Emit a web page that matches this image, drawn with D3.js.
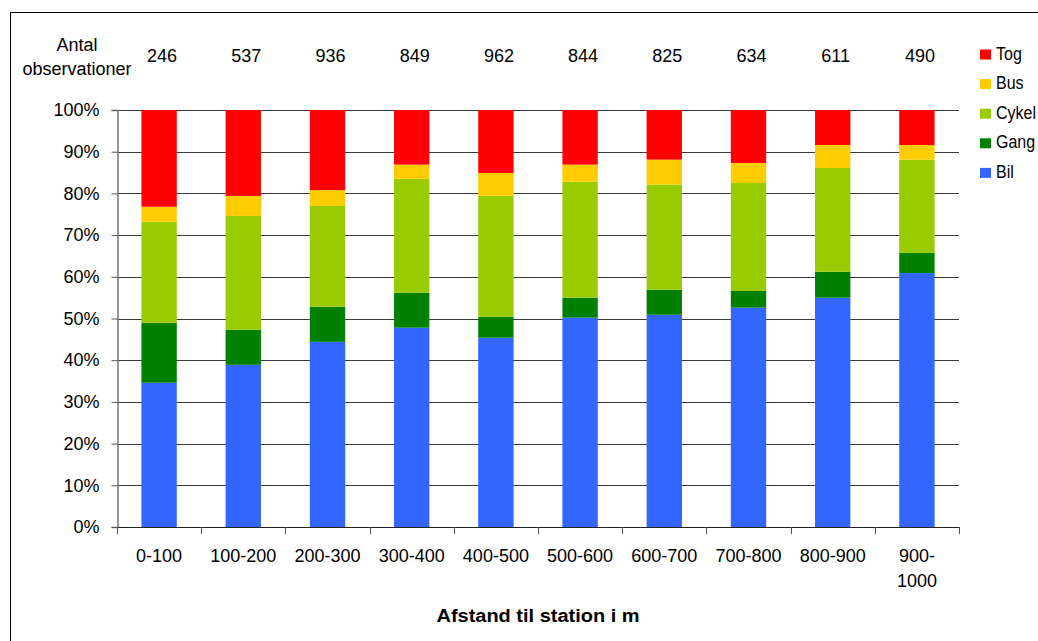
<!DOCTYPE html>
<html>
<head>
<meta charset="utf-8">
<script src="https://cdn.jsdelivr.net/npm/d3@7"></script>
<style>
  html, body { margin: 0; padding: 0; background: #fff; }
  svg { display: block; font-family: "Liberation Sans", Arial, sans-serif; }
</style>
</head>
<body>
<svg id="chart" width="1038" height="641"></svg>
<script>
// Distance bands to the station
const categories = ["0-100", "100-200", "200-300", "300-400", "400-500",
                    "500-600", "600-700", "700-800", "800-900", "900-1000"];
// Number of observations per band
const counts = [246, 537, 936, 849, 962, 844, 825, 634, 611, 490];

// Share of trips per mode (%), stacked bottom to top
const bil   = [34.6, 38.9, 44.4, 47.8, 45.4, 50.2, 50.9, 52.6, 55.0, 60.9];
const gang  = [14.4,  8.4,  8.4,  8.4,  5.0,  4.8,  6.0,  4.0,  6.2,  4.8];
const cykel = [24.2, 27.3, 24.2, 27.3, 29.0, 27.8, 25.2, 25.9, 24.9, 22.4];
const bus   = [ 3.6,  4.8,  3.8,  3.4,  5.5,  4.1,  6.0,  4.8,  5.5,  3.5];
const tog   = [23.2, 20.6, 19.2, 13.1, 15.1, 13.1, 11.9, 12.7,  8.4,  8.4];

const seriesNames = ["Bil", "Gang", "Cykel", "Bus", "Tog"];
const seriesValues = [bil, gang, cykel, bus, tog];
const seriesColors = ["#3366FF", "#008000", "#99CC00", "#FFCC00", "#FF0000"];

const yTicks = [0, 10, 20, 30, 40, 50, 60, 70, 80, 90, 100];

const svg = d3.select("#chart");

// Outer frame
svg.append("rect")
  .attr("x", 10.5).attr("y", 12.5)
  .attr("width", 1040).attr("height", 640)
  .attr("fill", "none").attr("stroke", "#000").attr("stroke-width", 1);

const plot = { left: 117, right: 959, top: 110, bottom: 527 };

const x = d3.scaleBand()
  .domain(categories)
  .range([plot.left, plot.right])
  .paddingInner(0.58)
  .paddingOuter(0.29);

const y = d3.scaleLinear()
  .domain([0, 100])
  .range([plot.bottom, plot.top]);

// Table rows for stacking
const rows = categories.map((c, i) => {
  const r = { cat: c };
  seriesNames.forEach((s, k) => { r[s] = seriesValues[k][i]; });
  return r;
});
const stacked = d3.stack().keys(seriesNames)(rows);
const color = d3.scaleOrdinal().domain(seriesNames).range(seriesColors);

// Horizontal gridlines
svg.append("g")
  .selectAll("line")
  .data(yTicks.filter(t => t > 0))
  .join("line")
  .attr("x1", plot.left).attr("x2", plot.right)
  .attr("y1", d => Math.round(y(d)) + 0.5).attr("y2", d => Math.round(y(d)) + 0.5)
  .attr("stroke", "#3a3a3a").attr("stroke-width", 1);

// Bars
svg.append("g")
  .selectAll("g")
  .data(stacked)
  .join("g")
  .attr("fill", d => color(d.key))
  .selectAll("rect")
  .data(d => d)
  .join("rect")
  .attr("x", d => x(d.data.cat))
  .attr("width", x.bandwidth())
  .attr("y", d => y(d[1]))
  .attr("height", d => y(d[0]) - y(d[1]));

// Y axis
const yAxis = svg.append("g")
  .attr("transform", `translate(${plot.left + 0.5},0)`)
  .call(d3.axisLeft(y).tickValues(yTicks).tickFormat(d => d + "%").tickSize(6).tickPadding(12));
yAxis.select(".domain").attr("stroke", "#777").attr("stroke-width", 1.5);
yAxis.selectAll(".tick line").attr("stroke", "#555");
yAxis.selectAll(".tick text")
  .attr("font-size", 18).attr("fill", "#000")
  .attr("font-family", "Liberation Sans, Arial, sans-serif");

// X axis: baseline, ticks at band boundaries, labels centred in bands
const step = x.step();
const boundaries = d3.range(categories.length + 1).map(i => plot.left + i * step);
const xg = svg.append("g");
xg.append("line")
  .attr("x1", plot.left).attr("x2", plot.right)
  .attr("y1", plot.bottom + 0.5).attr("y2", plot.bottom + 0.5)
  .attr("stroke", "#222").attr("stroke-width", 1);
xg.selectAll("line.tick")
  .data(boundaries)
  .join("line")
  .attr("class", "tick")
  .attr("x1", d => Math.round(d) + 0.5).attr("x2", d => Math.round(d) + 0.5)
  .attr("y1", plot.bottom).attr("y2", plot.bottom + 7)
  .attr("stroke", "#555");

const xLabels = xg.selectAll("text.cat")
  .data(categories)
  .join("text")
  .attr("class", "cat")
  .attr("x", d => x(d) + x.bandwidth() / 2)
  .attr("y", 562)
  .attr("text-anchor", "middle")
  .attr("font-size", 18)
  .text(d => d);

// Wrap labels wider than the band after the hyphen
xLabels.each(function(d) {
  const t = d3.select(this);
  if (this.getComputedTextLength() > step * 0.85) {
    const cut = d.indexOf("-") + 1;
    const cx = t.attr("x");
    t.text(null);
    t.append("tspan").attr("x", cx).text(d.slice(0, cut));
    t.append("tspan").attr("x", cx).attr("dy", 25).text(d.slice(cut));
  }
});

// Axis title
svg.append("text")
  .attr("x", (plot.left + plot.right) / 2)
  .attr("y", 622)
  .attr("text-anchor", "middle")
  .attr("font-size", 18)
  .attr("font-weight", "bold")
  .attr("textLength", 203)
  .attr("lengthAdjust", "spacingAndGlyphs")
  .text("Afstand til station i m");

// Observation counts above each bar
svg.append("text")
  .attr("x", 77).attr("y", 51)
  .attr("text-anchor", "middle").attr("font-size", 18)
  .text("Antal");
svg.append("text")
  .attr("x", 77).attr("y", 75)
  .attr("text-anchor", "middle").attr("font-size", 18)
  .text("observationer");
svg.append("g")
  .selectAll("text")
  .data(counts)
  .join("text")
  .attr("x", (d, i) => x(categories[i]) + x.bandwidth() / 2 + 3)
  .attr("y", 62)
  .attr("text-anchor", "middle")
  .attr("font-size", 18)
  .text(d => d);

// Legend (top entry is the top of the stack)
const legendOrder = seriesNames.slice().reverse();
const legend = svg.append("g")
  .selectAll("g")
  .data(legendOrder)
  .join("g")
  .attr("transform", (d, i) => `translate(980,${49.5 + i * 29.6})`);
legend.append("rect")
  .attr("width", 11).attr("height", 10)
  .attr("fill", d => color(d));
legend.append("text")
  .attr("transform", "translate(16,10) scale(1,1.12)")
  .attr("font-size", 16)
  .text(d => d);
</script>
</body>
</html>
